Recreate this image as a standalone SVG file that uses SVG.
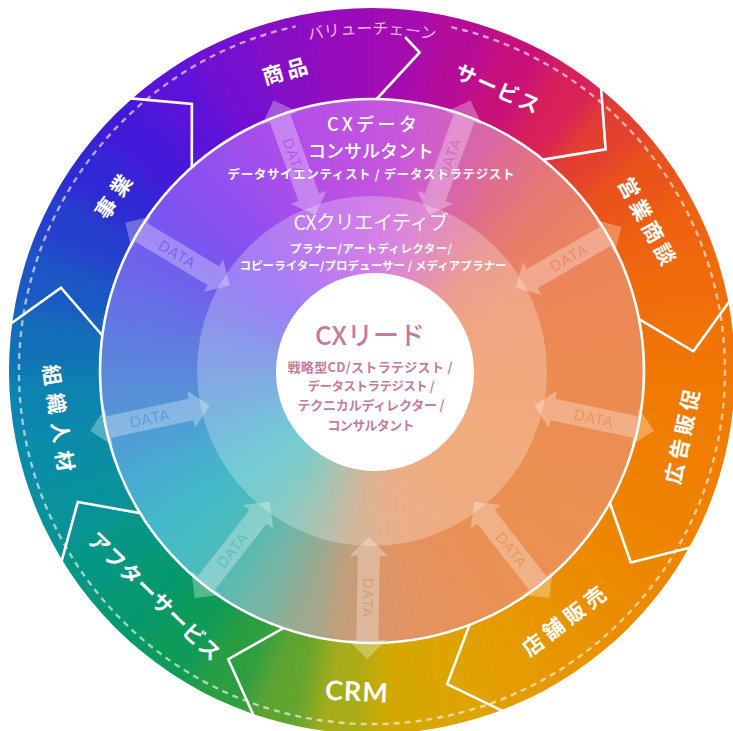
<svg xmlns="http://www.w3.org/2000/svg" xmlns:xlink="http://www.w3.org/1999/xlink" width="733" height="731" viewBox="0 0 733 731">
<style>
.lbl{font-family:"Noto Sans CJK JP","Noto Sans",sans-serif;font-weight:700;fill:#fff;font-size:21px;text-anchor:middle;dominant-baseline:central}
.crm{font-family:Lato,"Open Sans",sans-serif;font-weight:700;fill:#fff;font-size:27px;text-anchor:middle;dominant-baseline:central;letter-spacing:1px}
.div{fill:none;stroke:#fff;stroke-width:2.6;stroke-linejoin:miter}
.da{fill:#fff;fill-opacity:0.3}
.dt{font-family:Lato,"Open Sans",sans-serif;font-size:14.5px;fill:#2a2a2a;text-anchor:middle;dominant-baseline:central;letter-spacing:1px}
.rt{font-family:"Noto Sans CJK JP","Noto Sans",sans-serif;fill:#fff;text-anchor:middle;dominant-baseline:central}
.ct{font-family:"Noto Sans CJK JP","Noto Sans",sans-serif;fill:#c47b9e;text-anchor:middle;dominant-baseline:central}
.vc{font-family:"Noto Sans CJK JP","Noto Sans",sans-serif;font-size:16px;fill:#f2b6ee;text-anchor:middle}
</style>
<defs>
<path id="w0" d="M372,371L372,-29L441.5,-22.9Z"/>
<path id="w1" d="M372,371L441.5,-22.9L508.8,-4.9Z"/>
<path id="w2" d="M372,371L508.8,-4.9L572,24.6Z"/>
<path id="w3" d="M372,371L572,24.6L629.1,64.6Z"/>
<path id="w4" d="M372,371L629.1,64.6L678.4,113.9Z"/>
<path id="w5" d="M372,371L678.4,113.9L718.4,171Z"/>
<path id="w6" d="M372,371L718.4,171L747.9,234.2Z"/>
<path id="w7" d="M372,371L747.9,234.2L765.9,301.5Z"/>
<path id="w8" d="M372,371L765.9,301.5L772,371Z"/>
<path id="w9" d="M372,371L772,371L765.9,440.5Z"/>
<path id="w10" d="M372,371L765.9,440.5L747.9,507.8Z"/>
<path id="w11" d="M372,371L747.9,507.8L718.4,571Z"/>
<path id="w12" d="M372,371L718.4,571L678.4,628.1Z"/>
<path id="w13" d="M372,371L678.4,628.1L629.1,677.4Z"/>
<path id="w14" d="M372,371L629.1,677.4L572,717.4Z"/>
<path id="w15" d="M372,371L572,717.4L508.8,746.9Z"/>
<path id="w16" d="M372,371L508.8,746.9L441.5,764.9Z"/>
<path id="w17" d="M372,371L441.5,764.9L372,771Z"/>
<path id="w18" d="M372,371L372,771L302.5,764.9Z"/>
<path id="w19" d="M372,371L302.5,764.9L235.2,746.9Z"/>
<path id="w20" d="M372,371L235.2,746.9L172,717.4Z"/>
<path id="w21" d="M372,371L172,717.4L114.9,677.4Z"/>
<path id="w22" d="M372,371L114.9,677.4L65.6,628.1Z"/>
<path id="w23" d="M372,371L65.6,628.1L25.6,571Z"/>
<path id="w24" d="M372,371L25.6,571L-3.9,507.8Z"/>
<path id="w25" d="M372,371L-3.9,507.8L-21.9,440.5Z"/>
<path id="w26" d="M372,371L-21.9,440.5L-28,371Z"/>
<path id="w27" d="M372,371L-28,371L-21.9,301.5Z"/>
<path id="w28" d="M372,371L-21.9,301.5L-3.9,234.2Z"/>
<path id="w29" d="M372,371L-3.9,234.2L25.6,171Z"/>
<path id="w30" d="M372,371L25.6,171L65.6,113.9Z"/>
<path id="w31" d="M372,371L65.6,113.9L114.9,64.6Z"/>
<path id="w32" d="M372,371L114.9,64.6L172,24.6Z"/>
<path id="w33" d="M372,371L172,24.6L235.2,-4.9Z"/>
<path id="w34" d="M372,371L235.2,-4.9L302.5,-22.9Z"/>
<path id="w35" d="M372,371L302.5,-22.9L372,-29Z"/>
<filter id="blurO" x="-10%" y="-10%" width="120%" height="120%" color-interpolation-filters="sRGB"><feGaussianBlur stdDeviation="12"/></filter>
<filter id="blurM" x="-10%" y="-10%" width="120%" height="120%" color-interpolation-filters="sRGB"><feGaussianBlur stdDeviation="14"/></filter>
<clipPath id="cOuter"><circle cx="372" cy="371" r="363"/></clipPath>
<clipPath id="cMid"><circle cx="372" cy="371" r="272"/></clipPath>
<path id="arr" d="M0,0L19,-19L19,-11L103,-11L103,-19L122,0L103,19L103,11L19,11L19,19Z"/>
<mask id="mOut" maskUnits="userSpaceOnUse" x="-5" y="-25" width="132" height="50">
<rect x="-5" y="-25" width="132" height="50" fill="#fff"/>
<text class="dt" x="61" y="0">DATA</text>
</mask>
<mask id="mIn" maskUnits="userSpaceOnUse" x="-5" y="-25" width="132" height="50">
<rect x="-5" y="-25" width="132" height="50" fill="#fff"/>
<text class="dt" x="61" y="0" transform="rotate(180 61 0)">DATA</text>
</mask>
<path id="vcArc" d="M35,371A337,337 0 0 1 709,371"/>
</defs>

<g id="background">
<g clip-path="url(#cOuter)"><g filter="url(#blurO)">
<use href="#w0" fill="#a50cb0"/><use href="#w1" fill="#b50c98"/><use href="#w2" fill="#c8107a"/><use href="#w3" fill="#d8205a"/>
<use href="#w4" fill="#e3402e"/><use href="#w5" fill="#ea5418"/><use href="#w6" fill="#ee6210"/><use href="#w7" fill="#f06c0a"/>
<use href="#w8" fill="#f07406"/><use href="#w9" fill="#f07a02"/><use href="#w10" fill="#f07e00"/><use href="#w11" fill="#ef8200"/>
<use href="#w12" fill="#ed8600"/><use href="#w13" fill="#eb8c00"/><use href="#w14" fill="#e89400"/><use href="#w15" fill="#e49c00"/>
<use href="#w16" fill="#dea400"/><use href="#w17" fill="#d4a800"/><use href="#w18" fill="#a8ac18"/><use href="#w19" fill="#60a430"/>
<use href="#w20" fill="#2a9e40"/><use href="#w21" fill="#0e9a58"/><use href="#w22" fill="#06986e"/><use href="#w23" fill="#069684"/>
<use href="#w24" fill="#08929a"/><use href="#w25" fill="#0a8ca8"/><use href="#w26" fill="#0c84b0"/><use href="#w27" fill="#1270b8"/>
<use href="#w28" fill="#1a58c4"/><use href="#w29" fill="#2440cc"/><use href="#w30" fill="#3028d4"/><use href="#w31" fill="#4418d8"/>
<use href="#w32" fill="#5c12d8"/><use href="#w33" fill="#7410d0"/><use href="#w34" fill="#880ec4"/><use href="#w35" fill="#980cbc"/>
</g></g>
<g clip-path="url(#cMid)"><g filter="url(#blurM)">
<use href="#w0" fill="#c656de"/><use href="#w1" fill="#d060c8"/><use href="#w2" fill="#d866aa"/><use href="#w3" fill="#e0708a"/>
<use href="#w4" fill="#e67a70"/><use href="#w5" fill="#ea8262"/><use href="#w6" fill="#ec865a"/><use href="#w7" fill="#ec8856"/>
<use href="#w8" fill="#ec8a54"/><use href="#w9" fill="#ec8c52"/><use href="#w10" fill="#ec8e52"/><use href="#w11" fill="#ec8e52"/>
<use href="#w12" fill="#ec9052"/><use href="#w13" fill="#eb9052"/><use href="#w14" fill="#ea9054"/><use href="#w15" fill="#e89058"/>
<use href="#w16" fill="#e6925e"/><use href="#w17" fill="#e09466"/><use href="#w18" fill="#c89c78"/><use href="#w19" fill="#a0a890"/>
<use href="#w20" fill="#78b4a4"/><use href="#w21" fill="#58bab4"/><use href="#w22" fill="#48bcc0"/><use href="#w23" fill="#44b8c8"/>
<use href="#w24" fill="#48acd0"/><use href="#w25" fill="#509cd6"/><use href="#w26" fill="#588ed8"/><use href="#w27" fill="#5e80de"/>
<use href="#w28" fill="#6672e6"/><use href="#w29" fill="#7062ec"/><use href="#w30" fill="#7a56f0"/><use href="#w31" fill="#8850f0"/>
<use href="#w32" fill="#9850ee"/><use href="#w33" fill="#a84eea"/><use href="#w34" fill="#b450e6"/><use href="#w35" fill="#be52e2"/>
</g></g>
<circle cx="372" cy="371" r="175" fill="#fff" fill-opacity="0.26"/>
<circle cx="372" cy="371" r="272" fill="none" stroke="#fff" stroke-width="2.6"/>
<path d="M451.4,27.1A353,353 0 1 1 295.6,26.4" fill="none" stroke="#fff" stroke-opacity="0.6" stroke-width="2.4" stroke-dasharray="6 5"/>
<text class="vc"><textPath href="#vcArc" startOffset="50%">バリューチェーン</textPath></text>
</g>

<g id="value-chain">
<g id="seg-shohin"><path class="div" d="M376.7,99L419.6,52.5L405.1,37"/><text class="lbl" font-size="22" letter-spacing="4" transform="translate(286.4,69.5) rotate(-16.2)">商品</text></g>
<g id="seg-service"><path class="div" d="M543.2,159.6L605.6,149.4L601.1,88.1"/><text class="lbl" font-size="22" letter-spacing="2" transform="translate(499,87.8) rotate(24)">サービス</text></g>
<g id="seg-eigyo"><path class="div" d="M639,319.1L693.4,351.3L729.3,301.5"/><text class="lbl" letter-spacing="4" transform="translate(648.9,222.2) rotate(61.5)">営業商談</text></g>
<g id="seg-koukoku"><path class="div" d="M609.9,502.9L630.8,562.5L690.4,547.5"/><text class="lbl" letter-spacing="4" transform="translate(681.5,434.7) rotate(-78)">広告販促</text></g>
<g id="seg-tenpo"><path class="div" d="M469.5,624.9L447.2,684.1L502.4,710.8"/><text class="lbl" letter-spacing="5" transform="translate(565.2,618.6) rotate(-37.5)">店舗販売</text></g>
<g id="seg-crm"><path class="div" d="M283.4,628.2L228.3,659.2L253.5,715.2"/><text class="crm" transform="translate(357,690.7) rotate(2.5)">CRM</text></g>
<g id="seg-after"><path class="div" d="M140.1,513.1L77.8,502L61.6,561.2"/><text class="lbl" font-size="20" letter-spacing="1" transform="translate(155.6,595.7) rotate(44)">アフターサービス</text></g>
<g id="seg-soshiki"><path class="div" d="M102.3,335.5L61,287.7L11.1,323.5"/><text class="lbl" letter-spacing="8" transform="translate(60.1,421.7) rotate(81.5)">組織人材</text></g>
<g id="seg-jigyo"><path class="div" d="M191.8,167.3L191.9,104L130.8,98.4"/><text class="lbl" letter-spacing="6" transform="translate(114.2,193.5) rotate(-56)">事業</text></g>
</g>

<g id="connectors">
<g transform="translate(428.8,215) rotate(-70)"><use href="#arr" class="da" mask="url(#mOut)"/></g>
<g transform="translate(515.8,288) rotate(-30)"><use href="#arr" class="da" mask="url(#mOut)"/></g>
<g transform="translate(534.4,405.5) rotate(12)"><use href="#arr" class="da" mask="url(#mOut)"/></g>
<g transform="translate(474.2,501.8) rotate(52)"><use href="#arr" class="da" mask="url(#mOut)"/></g>
<g transform="translate(369.1,537) rotate(91)"><use href="#arr" class="da" mask="url(#mOut)"/></g>
<g transform="translate(269.8,501.8) rotate(128)"><use href="#arr" class="da" mask="url(#mIn)"/></g>
<g transform="translate(209.6,405.5) rotate(168)"><use href="#arr" class="da" mask="url(#mIn)"/></g>
<g transform="translate(229.7,285.5) rotate(211)"><use href="#arr" class="da" mask="url(#mIn)"/></g>
<g transform="translate(315.2,215) rotate(250)"><use href="#arr" class="da" mask="url(#mIn)"/></g>
</g>

<g id="role-cx-data">
<text class="rt" x="372" y="122.5" font-size="18" font-weight="500" textLength="90">CXデータ</text>
<text class="rt" x="371" y="149.5" font-size="18" font-weight="500" textLength="126">コンサルタント</text>
<text class="rt" x="371" y="173" font-size="12.5" font-weight="700" textLength="287">データサイエンティスト / データストラテジスト</text>
</g>
<g id="role-cx-creative">
<text class="rt" x="371" y="221" font-size="20" font-weight="400" fill-opacity="0.95" textLength="155">CXクリエイティブ</text>
<text class="rt" x="371" y="247.5" font-size="11.5" font-weight="700" textLength="162">プラナー/アートディレクター/</text>
<text class="rt" x="373" y="265" font-size="11.5" font-weight="700" textLength="267">コピーライター/プロデューサー / メディアプラナー</text>
</g>
<g id="role-cx-lead">
<circle cx="375" cy="372" r="99" fill="#fff"/>
<text class="ct" x="370" y="333" font-size="26" font-weight="500">CXリード</text>
<text class="ct" x="370" y="366" font-size="13" font-weight="700" textLength="165">戦略型CD/ストラテジスト /</text>
<text class="ct" x="371" y="385" font-size="12.5" font-weight="700" textLength="127">データストラテジスト /</text>
<text class="ct" x="371" y="404" font-size="13" font-weight="700" textLength="147">テクニカルディレクター /</text>
<text class="ct" x="371" y="424" font-size="13" font-weight="700" textLength="87">コンサルタント</text>
</g>
</svg>
